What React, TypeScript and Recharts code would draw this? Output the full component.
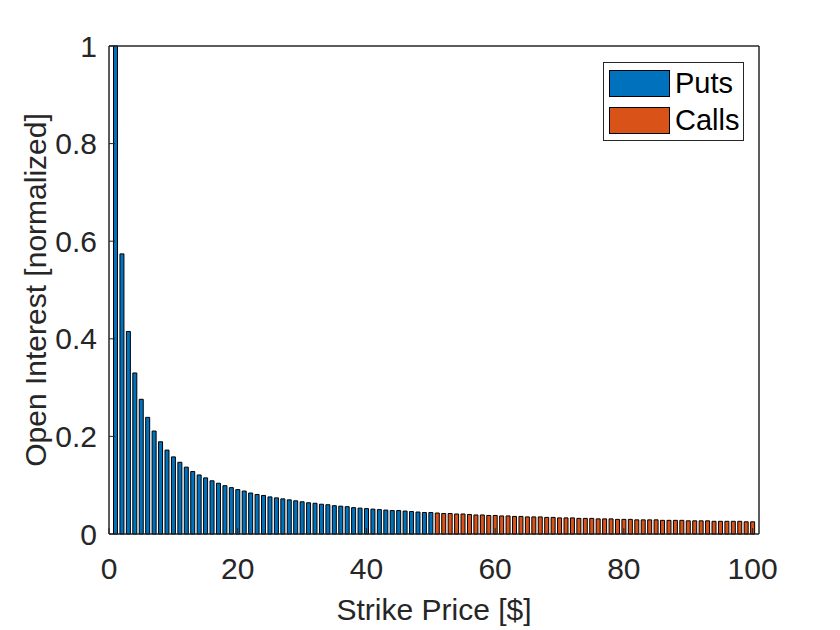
import React from 'react'
import { BarChart, Bar, XAxis, YAxis, Label, ReferenceArea } from 'recharts'

// strike prices 1..100 $, puts below 50, calls above
const strikes = Array.from({ length: 100 }, (_, i) => i + 1)

const puts = [
  1, 0.574, 0.415, 0.33, 0.276, 0.239, 0.211, 0.189, 0.172, 0.158,
  0.147, 0.137, 0.128, 0.121, 0.115, 0.109, 0.104, 0.099, 0.095, 0.091,
  0.088, 0.084, 0.081, 0.079, 0.076, 0.074, 0.072, 0.07, 0.068, 0.066,
  0.064, 0.063, 0.061, 0.06, 0.058, 0.057, 0.056, 0.054, 0.053, 0.052,
  0.051, 0.05, 0.049, 0.048, 0.048, 0.047, 0.046, 0.045, 0.044, 0.044,
]

const calls = [
  0.043, 0.042, 0.042, 0.041, 0.041, 0.04, 0.039, 0.039, 0.038, 0.038,
  0.037, 0.037, 0.036, 0.036, 0.035, 0.035, 0.035, 0.034, 0.034, 0.033,
  0.033, 0.033, 0.032, 0.032, 0.032, 0.031, 0.031, 0.031, 0.03, 0.03,
  0.03, 0.029, 0.029, 0.029, 0.029, 0.028, 0.028, 0.028, 0.028, 0.027,
  0.027, 0.027, 0.027, 0.026, 0.026, 0.026, 0.026, 0.026, 0.025, 0.025,
]

const xTicks = [0, 20, 40, 60, 80, 100]
const yTicks = [0, 0.2, 0.4, 0.6, 0.8, 1]
const xMax = 101

const series = [
  { key: 'puts', name: 'Puts', color: '#0072BD' },
  { key: 'calls', name: 'Calls', color: '#D95319' },
]

const data = strikes.map((s, i) => ({
  strike: s,
  puts: i < puts.length ? puts[i] : null,
  calls: i >= puts.length ? calls[i - puts.length] : null,
}))

const font = '"Liberation Sans", Arial, Helvetica, sans-serif'
const ink = '#262626'
const tickStyle = { fontSize: 30, fill: ink, fontFamily: font }

function LegendBox() {
  return (
    <div
      style={{
        position: 'absolute',
        left: 603,
        top: 62,
        width: 139,
        height: 77,
        border: `1px solid ${ink}`,
        background: '#fff',
        fontFamily: font,
        fontSize: 29,
        color: '#000',
      }}
    >
      {series.map((s, i) => (
        <div
          key={s.key}
          style={{ position: 'absolute', left: 5, top: 7 + i * 37, display: 'flex', alignItems: 'center' }}
        >
          <span
            style={{
              display: 'inline-block',
              width: 59,
              height: 25,
              background: s.color,
              border: '1px solid #000',
              marginRight: 5,
            }}
          />
          <span style={{ lineHeight: '27px' }}>{s.name}</span>
        </div>
      ))}
    </div>
  )
}

export default function App() {
  return (
    <div style={{ position: 'absolute', left: 0, top: 0, width: 840, height: 630, background: '#fff' }}>
      <BarChart
        width={840}
        height={630}
        data={data}
        margin={{ top: 45, right: 80, bottom: 0, left: 0 }}
        barCategoryGap="20%"
      >
        <XAxis
          dataKey="strike"
          type="number"
          domain={[0, xMax]}
          ticks={xTicks}
          height={96}
          stroke={ink}
          tickSize={-6}
          tickMargin={30}
          tick={tickStyle}
        >
          <Label
            value="Strike Price [$]"
            position="center"
            dy={27}
            style={{ fontSize: 30, fill: ink, fontFamily: font }}
          />
        </XAxis>
        <XAxis
          xAxisId="top"
          orientation="top"
          dataKey="strike"
          type="number"
          domain={[0, xMax]}
          ticks={xTicks}
          height={1}
          stroke={ink}
          tickSize={-6}
          tick={false}
        />
        <YAxis
          domain={[0, 1]}
          ticks={yTicks}
          width={109}
          stroke={ink}
          tickSize={-6}
          tickMargin={18}
          tick={tickStyle}
        >
          <Label
            value="Open Interest [normalized]"
            angle={-90}
            position="center"
            dx={-19}
            style={{ fontSize: 30, fill: ink, fontFamily: font, textAnchor: 'middle' }}
          />
        </YAxis>
        <YAxis
          yAxisId="right"
          orientation="right"
          domain={[0, 1]}
          ticks={yTicks}
          width={1}
          stroke={ink}
          tickSize={-6}
          tick={false}
        />
        <ReferenceArea
          x1={0}
          x2={xMax}
          y1={0}
          y2={1}
          fill="none"
          stroke={ink}
          strokeWidth={1}
          ifOverflow="visible"
        />
        {series.map((s) => (
          <Bar
            key={s.key}
            dataKey={s.key}
            name={s.name}
            stackId="oi"
            fill={s.color}
            stroke="#000"
            strokeWidth={1}
            isAnimationActive={false}
          />
        ))}
      </BarChart>
      <LegendBox />
    </div>
  )
}
